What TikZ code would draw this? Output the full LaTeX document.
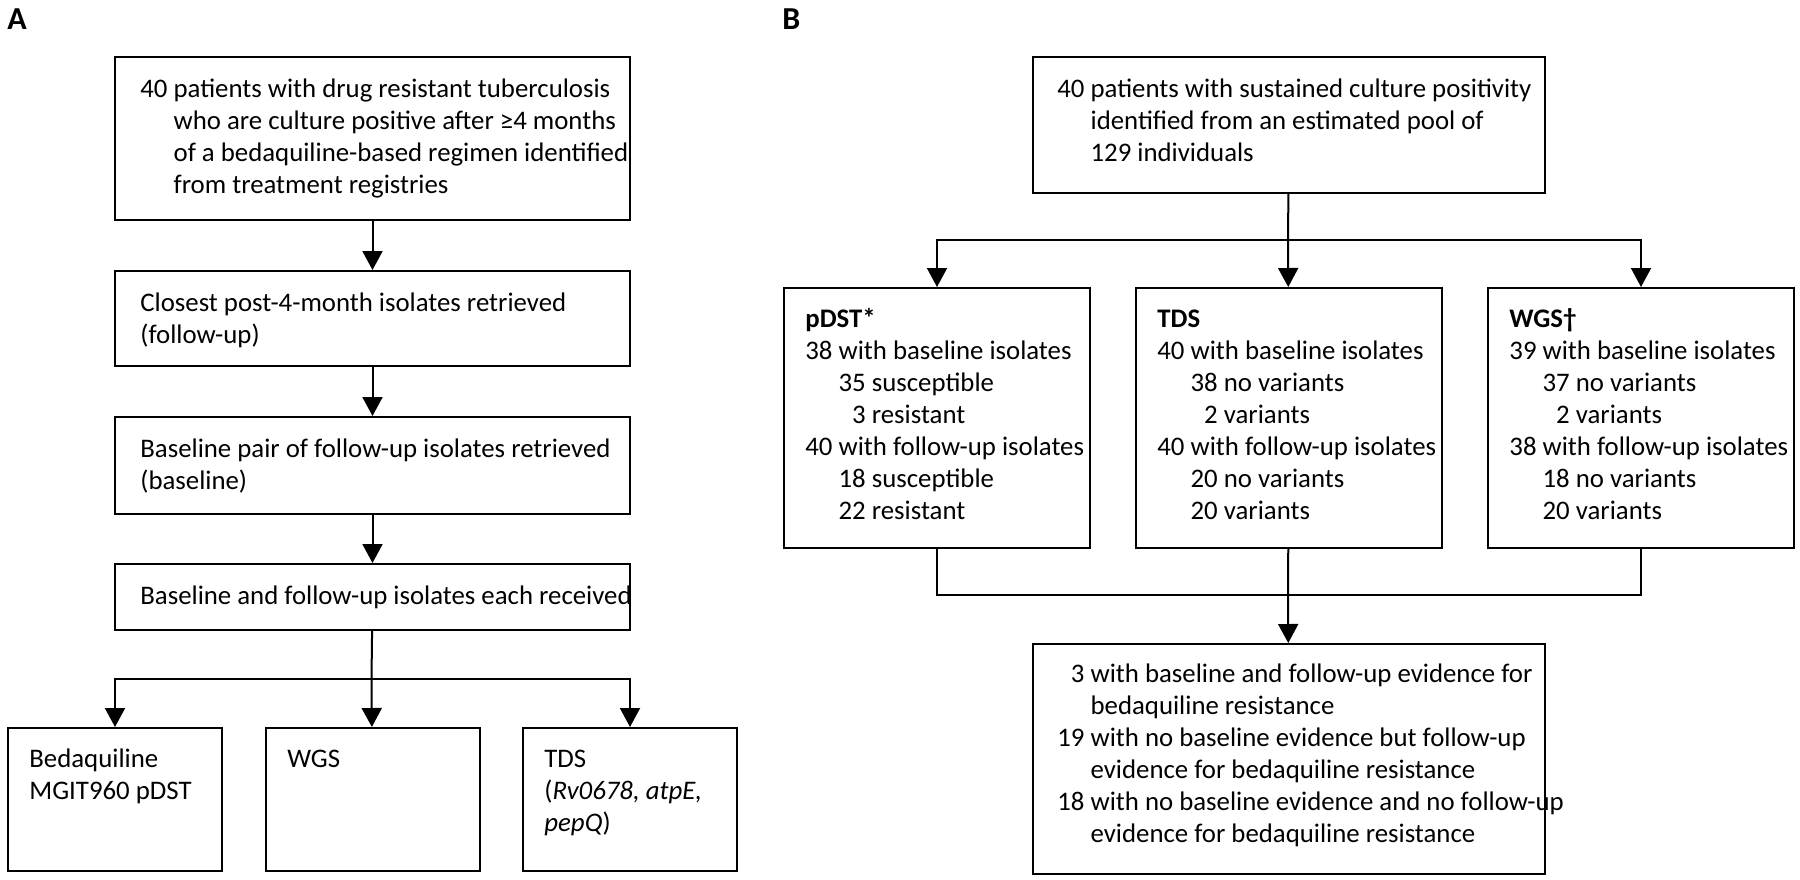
\documentclass[tikz,border=0pt]{standalone}
\usepackage{fontspec}
\setmainfont{Carlito}
\usetikzlibrary{arrows.meta}
\newcommand\txtlines[1]{\vtop{\lineskiplimit=-100pt\halign{##\hfil\cr#1\crcr}}}
\newcommand\numr[2]{\hphantom{#1}\llap{#2}\ }
\newcommand\tind{\hphantom{00\ }}
\begin{document}
\begin{tikzpicture}[x=0.5pt,y=-0.5pt,
  box/.style={draw=black, line width=1pt, inner sep=0pt, anchor=north west},
  txt/.style={anchor=base west, inner sep=0pt, font=\fontsize{13.4pt}{16pt}\selectfont, text=black},
  lbl/.style={anchor=base west, inner sep=0pt, font=\fontsize{16pt}{18pt}\selectfont\bfseries},
  conn/.style={line width=1pt},
  arr/.style={line width=1pt, -{Triangle[length=9.5pt,width=10pt]}}]
\useasboundingbox (0,0) rectangle (1800,879);

% ---------------- Panel A ----------------
\node[lbl] (labA) at (7,29) {A};

\node[box, minimum width=257.5pt, minimum height=81.5pt] (A1) at (114,56) {};
\node[txt] (A1t) at (140,97) {\txtlines{%
\numr{00}{40}patients with drug resistant tuberculosis\cr
\tind who are culture positive after ≥4 months\cr
\tind of a bedaquiline-based regimen identified\cr
\tind from treatment registries}};

\node[box, minimum width=257.5pt, minimum height=47.5pt] (A2) at (114,270) {};
\node[txt] (A2t) at (140,311) {\txtlines{%
Closest post-4-month isolates retrieved\cr
(follow-up)}};

\node[box, minimum width=257.5pt, minimum height=48.5pt] (A3) at (114,416) {};
\node[txt] (A3t) at (140,457) {\txtlines{%
Baseline pair of follow-up isolates retrieved\cr
(baseline)}};

\node[box, minimum width=257.5pt, minimum height=33pt] (A4) at (114,563) {};
\node[txt] (A4t) at (140,604) {\txtlines{%
Baseline and follow-up isolates each received}};

\coordinate (jA) at (371.5,679);

\node[box, minimum width=107pt, minimum height=71.5pt] (B1) at (7,727) {};
\node[txt] (B1t) at (29,767) {\txtlines{%
Bedaquiline\cr
MGIT960 pDST}};

\node[box, minimum width=107pt, minimum height=71.5pt] (B2) at (264.5,727) {};
\node[txt] (B2t) at (287,767) {\txtlines{WGS}};

\node[box, minimum width=107pt, minimum height=71.5pt] (B3) at (522,727) {};
\node[txt] (B3t) at (544,767) {\txtlines{%
TDS\cr
(\textit{Rv0678, atpE,}\cr
\textit{pepQ})}};

\draw[arr] (A1) -- (A2);
\draw[arr] (A2) -- (A3);
\draw[arr] (A3) -- (A4);
\draw[conn] (A4) -- (jA);
\draw[arr] (jA) -| (B1);
\draw[arr] (jA) -- (B2);
\draw[arr] (jA) -| (B3);

% ---------------- Panel B ----------------
\node[lbl] (labB) at (782,29) {B};

\node[box, minimum width=256pt, minimum height=68pt] (TB) at (1032,56) {};
\node[txt] (TBt) at (1057,97) {\txtlines{%
\numr{00}{40}patients with sustained culture positivity\cr
\tind identified from an estimated pool of\cr
\tind 129 individuals}};

\coordinate (jB) at (1288,240);

\node[box, minimum width=153pt, minimum height=130pt] (S1) at (783,287) {};
\node[txt] (S1t) at (805,327) {\txtlines{%
\textbf{pDST*}\cr
\numr{00}{38}with baseline isolates\cr
\tind\numr{00}{35}susceptible\cr
\tind\numr{00}{3}resistant\cr
\numr{00}{40}with follow-up isolates\cr
\tind\numr{00}{18}susceptible\cr
\tind\numr{00}{22}resistant}};

\node[box, minimum width=153pt, minimum height=130pt] (S2) at (1135,287) {};
\node[txt] (S2t) at (1157,327) {\txtlines{%
\textbf{TDS}\cr
\numr{00}{40}with baseline isolates\cr
\tind\numr{00}{38}no variants\cr
\tind\numr{00}{2}variants\cr
\numr{00}{40}with follow-up isolates\cr
\tind\numr{00}{20}no variants\cr
\tind\numr{00}{20}variants}};

\node[box, minimum width=153pt, minimum height=130pt] (S3) at (1487,287) {};
\node[txt] (S3t) at (1509,327) {\txtlines{%
\textbf{WGS†}\cr
\numr{00}{39}with baseline isolates\cr
\tind\numr{00}{37}no variants\cr
\tind\numr{00}{2}variants\cr
\numr{00}{38}with follow-up isolates\cr
\tind\numr{00}{18}no variants\cr
\tind\numr{00}{20}variants}};

\coordinate (jB2) at (1288,595);

\node[box, minimum width=256pt, minimum height=115pt] (BB) at (1032,643) {};
\node[txt] (BBt) at (1057,682) {\txtlines{%
\numr{00}{3}with baseline and follow-up evidence for\cr
\tind bedaquiline resistance\cr
\numr{00}{19}with no baseline evidence but follow-up\cr
\tind evidence for bedaquiline resistance\cr
\numr{00}{18}with no baseline evidence and no follow-up\cr
\tind evidence for bedaquiline resistance}};

\draw[conn] (TB) -- (jB);
\draw[arr] (jB) -| (S1);
\draw[arr] (jB) -- (S2);
\draw[arr] (jB) -| (S3);
\draw[conn] (S1) |- (jB2);
\draw[conn] (S2) -- (jB2);
\draw[conn] (S3) |- (jB2);
\draw[arr] (jB2) -- (BB);
\end{tikzpicture}
\end{document}
